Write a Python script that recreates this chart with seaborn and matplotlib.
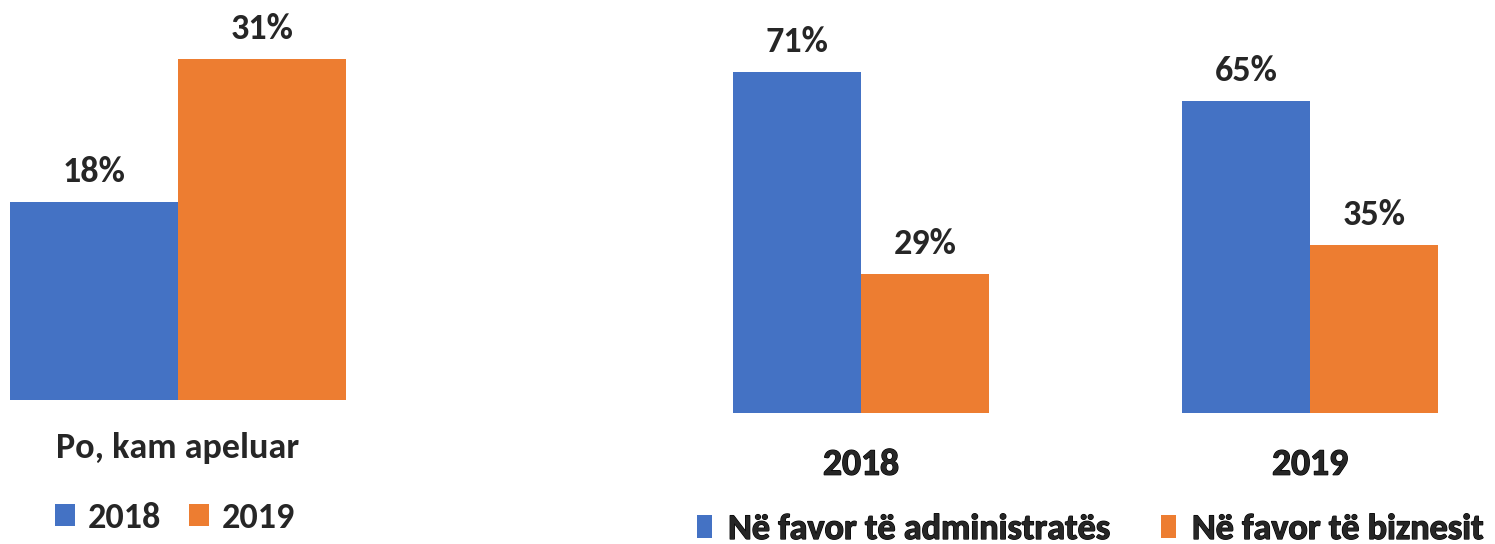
import matplotlib
matplotlib.use("Agg")
import matplotlib.pyplot as plt
import matplotlib.patheffects as pe
import pandas as pd
import seaborn as sns

# left panel: appealed
appeal_cat = ['Po, kam apeluar']
appeal_years = ['2018', '2019']
appeal_vals = [18, 31]

# right panel: outcome of appeal
outcome_years = ['2018', '2019']
outcome_groups = ['Në favor të administratës', 'Në favor të biznesit']
admin_vals = [71, 65]
biz_vals = [29, 35]

BLUE = '#4472C4'
ORANGE = '#ED7D31'
FS = 26

sns.set_theme(style='white')
plt.rcParams['font.family'] = ['Carlito', 'DejaVu Sans']
plt.rcParams['font.weight'] = 'bold'

W, H = 1495, 544
fig = plt.figure(figsize=(W / 100, H / 100), dpi=100)

df_left = pd.DataFrame({'cat': appeal_cat * len(appeal_years),
                        'year': appeal_years,
                        'val': appeal_vals})

df_right = pd.DataFrame({'year': outcome_years * 2,
                         'group': [outcome_groups[0]] * 2 + [outcome_groups[1]] * 2,
                         'val': admin_vals + biz_vals})

# left axes
ax1 = fig.add_axes([10 / W, 144 / H, 336 / W, 385 / H])
sns.barplot(data=df_left, x='cat', y='val', hue='year', palette=[BLUE, ORANGE],
            width=0.8, saturation=1, linewidth=0, ax=ax1)
ax1.set_xlim(-0.4, 0.4)
ax1.set_ylim(0, 35)
for c in ax1.containers:
    ax1.bar_label(c, labels=[f'{v:.0f}%' for v in c.datavalues], padding=10,
                  fontsize=FS, fontweight='bold')
ax1.set_xlabel('')
ax1.set_ylabel('')
ax1.set_yticks([])
ax1.set_xticks([0], labels=appeal_cat, fontsize=FS, fontweight='bold')
ax1.tick_params(axis='x', length=0, pad=23)
sns.despine(ax=ax1, left=True, bottom=True)
leg1 = ax1.legend(loc='center left', bbox_to_anchor=(55 / W, (H - 518) / H),
                  bbox_transform=fig.transFigure, ncol=2, frameon=False,
                  prop={'size': FS, 'weight': 'bold'}, handlelength=0.55, handleheight=0.55,
                  handletextpad=0.36, columnspacing=0.78, borderaxespad=0, borderpad=0)

# right axes
ax2 = fig.add_axes([681.4 / W, 131 / H, 808.2 / W, 384 / H])
sns.barplot(data=df_right, x='year', y='val', hue='group', palette=[BLUE, ORANGE],
            width=0.57, saturation=1, linewidth=0, ax=ax2)
ax2.set_xlim(-0.4, 1.4)
ax2.set_ylim(0, 80)
for c in ax2.containers:
    ax2.bar_label(c, labels=[f'{v:.0f}%' for v in c.datavalues], padding=10,
                  fontsize=FS, fontweight='bold')
ax2.set_xlabel('')
ax2.set_ylabel('')
ax2.set_yticks([])
ax2.set_xticks([0, 1], labels=outcome_years, fontsize=FS + 1, fontweight='bold')
ax2.tick_params(axis='x', length=0, pad=25)
sns.despine(ax=ax2, left=True, bottom=True)
leg2 = ax2.legend(loc='center left', bbox_to_anchor=(697 / W, (H - 529) / H),
                  bbox_transform=fig.transFigure, ncol=2, frameon=False,
                  prop={'size': FS, 'weight': 'bold'}, handlelength=0.42, handleheight=0.62,
                  handletextpad=0.44, columnspacing=1.4, borderaxespad=0, borderpad=0)

# the right panel's text is heavier in the original
heavy = [pe.withStroke(linewidth=0.9, foreground='black')]
for t in ax2.get_xticklabels() + leg2.get_texts():
    t.set_path_effects(heavy)

fig.savefig('out.png', dpi=100)
